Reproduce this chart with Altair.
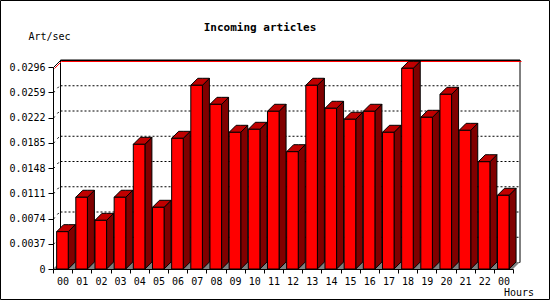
import json
import altair as alt
import pandas as pd

# ---- data ----
hours = ["00", "01", "02", "03", "04", "05", "06", "07", "08", "09", "10", "11",
         "12", "13", "14", "15", "16", "17", "18", "19", "20", "21", "22", "00"]
values = [0.00547, 0.01051, 0.00713, 0.01051, 0.01827, 0.00904, 0.01915, 0.02692,
          0.02413, 0.02003, 0.02047, 0.02311, 0.01719, 0.02692, 0.02355, 0.02194,
          0.02311, 0.02003, 0.02941, 0.02223, 0.02560, 0.02032, 0.01572, 0.01080]
y_ticks = [0, 0.0037, 0.0074, 0.0111, 0.0148, 0.0185, 0.0222, 0.0259, 0.0296]
title_text = "Incoming articles"
y_title = "Art/sec"
x_title = "Hours"

# ---- layout / style ----
W, H = 460, 202
N = len(hours)
YMAX = y_ticks[-1]
DEPTH_PX = 7
DX = DEPTH_PX * N / W          # depth offset in x units
DY = DEPTH_PX * YMAX / H       # depth offset in y units
OFF = 0.19                     # bar left offset inside its slot
BW = 0.605                     # bar front width (slot units)
FONT = "DejaVu Sans Mono"
CR = 0.5                       # crisp-line offset

df = pd.DataFrame({"i": list(range(N)), "hour": hours, "value": values})
ticks_df = pd.DataFrame({"t": y_ticks})

xscale = alt.Scale(domain=[0, N], nice=False, zero=False)
yscale = alt.Scale(domain=[0, YMAX], nice=False, zero=False)

xaxis = alt.Axis(
    values=list(range(N + 1)),
    labelExpr=f"datum.value < {N} ? {json.dumps(hours)}[datum.value] : ''",
    labelOffset=W / N / 2, tickSize=4, labelPadding=3, grid=False, title=None,
    labelFlush=False, labelOverlap=False, labelBound=False,
    domainColor="black", tickColor="black", labelColor="black",
    labelFont=FONT, labelFontSize=10, zindex=1,
)
yaxis = alt.Axis(
    values=y_ticks,
    labelExpr="datum.value == 0 ? '0' : format(datum.value, '.4f')",
    tickSize=5, labelPadding=3, grid=False, title=None,
    labelFlush=False, labelOverlap=False, labelBound=False,
    domainColor="black", tickColor="black", labelColor="black",
    labelFont=FONT, labelFontSize=10, zindex=1,
)


def X(field=None, datum=None):
    if datum is not None:
        return alt.X(datum=datum, type="quantitative", scale=xscale, axis=xaxis)
    return alt.X(field, type="quantitative", scale=xscale, axis=xaxis)


def Y(field=None, datum=None):
    if datum is not None:
        return alt.Y(datum=datum, type="quantitative", scale=yscale, axis=yaxis)
    return alt.Y(field, type="quantitative", scale=yscale, axis=yaxis)


one = pd.DataFrame({"z": [0]})

# back wall
back = alt.Chart(one).mark_rect(
    fill="white", stroke="black", strokeWidth=1, xOffset=CR, yOffset=CR
).encode(
    x=X(datum=DX), x2=alt.X2(datum=N + DX), y=Y(datum=DY), y2=alt.Y2(datum=YMAX + DY)
)

# grid on back wall and side wall
grid_src = alt.Chart(ticks_df).transform_filter(
    f"datum.t > 0 && datum.t < {YMAX * 0.999}"
).transform_calculate(tb=f"datum.t + {DY}")
grid_h = grid_src.mark_rule(
    color="black", strokeDash=[2, 2], strokeWidth=1, xOffset=CR, yOffset=CR
).encode(
    x=X(datum=DX), x2=alt.X2(datum=N + DX), y=Y("tb")
)
grid_s = grid_src.mark_rule(
    color="black", strokeDash=[2, 4], strokeWidth=1, xOffset=CR, yOffset=CR
).encode(
    x=X(datum=0), x2=alt.X2(datum=DX), y=Y("t"), y2=alt.Y2("tb")
)

# top edge of the box (red + black)
edge_src = alt.Chart(alt.sequence(0, 3, as_="k")).transform_calculate(
    ex=f"[0, {DX}, {N + DX}][datum.k]",
    ey=f"[{YMAX}, {YMAX + DY}, {YMAX + DY}][datum.k]",
)
edge_red = edge_src.mark_line(
    color="#ff0000", strokeWidth=1, yOffset=1 + CR, xOffset=1 + CR
).encode(x=X("ex"), y=Y("ey"), order="k:Q")
edge_blk = edge_src.mark_line(
    color="black", strokeWidth=1, yOffset=CR, xOffset=CR
).encode(x=X("ex"), y=Y("ey"), order="k:Q")

# floor
floor = alt.Chart(alt.sequence(0, 4, as_="k")).transform_calculate(
    fx=f"[0, {DX}, {N}, {N + DX}][datum.k]",
    fy=f"[0, {DY}, {DY}, {DY}][datum.k]",
    fy2=f"[0, 0, 0, {DY}][datum.k]",
).mark_area(color="#808080", orient="vertical").encode(
    x=X("fx"), y=Y("fy"), y2=alt.Y2("fy2")
)

bars_base = alt.Chart(df).transform_calculate(
    xl=f"datum.i + {OFF}", xr=f"datum.i + {OFF + BW}"
)

side = bars_base.transform_calculate(k="[0, 1]").transform_flatten(["k"]).transform_calculate(
    sx=f"datum.xr + datum.k * {DX}",
    sy=f"datum.value + datum.k * {DY}",
    sy2=f"datum.k * {DY}",
).mark_area(fill="#800000", stroke="black", strokeWidth=1, orient="vertical").encode(
    x=X("sx"), y=Y("sy"), y2=alt.Y2("sy2"), detail="i:N"
)

top = bars_base.transform_calculate(k="[0, 1, 2, 3]").transform_flatten(["k"]).transform_calculate(
    tx=f"[datum.xl, datum.xl + {DX}, datum.xr, datum.xr + {DX}][datum.k]",
    ty=f"[datum.value, datum.value + {DY}, datum.value + {DY}, datum.value + {DY}][datum.k]",
    ty2=f"[datum.value, datum.value, datum.value, datum.value + {DY}][datum.k]",
).mark_area(fill="#c00000", stroke="black", strokeWidth=1, orient="vertical").encode(
    x=X("tx"), y=Y("ty"), y2=alt.Y2("ty2"), detail="i:N"
)

front = bars_base.mark_rect(fill="#ff0000", stroke="black", strokeWidth=1).encode(
    x=X("xl"), x2=alt.X2("xr"), y=Y("value"), y2=alt.Y2(datum=0)
)

# texts
title = alt.Chart(pd.DataFrame({"s": [title_text]})).mark_text(
    font=FONT, fontSize=11, fontWeight="bold", align="center", baseline="alphabetic", color="black"
).encode(x=alt.value(207), y=alt.value(-36), text="s:N")
ytitle = alt.Chart(pd.DataFrame({"s": [y_title]})).mark_text(
    font=FONT, fontSize=10, align="left", baseline="alphabetic", color="black"
).encode(x=alt.value(-24.5), y=alt.value(-27), text="s:N")
xtitle = alt.Chart(pd.DataFrame({"s": [x_title]})).mark_text(
    font=FONT, fontSize=10, align="left", baseline="alphabetic", color="black"
).encode(x=alt.value(451), y=alt.value(H + 27), text="s:N")

frame = alt.Chart(one).mark_rect(filled=False, stroke="black", strokeWidth=1).encode(
    x=alt.value(-52.5), x2=alt.value(496.5), y=alt.value(-66.5), y2=alt.value(232.5)
)

chart = alt.layer(
    back, grid_h, grid_s, edge_red, edge_blk, floor, side, top, front,
    title, ytitle, xtitle, frame
).properties(
    width=W, height=H,
    autosize=alt.AutoSizeParams(type="none"),
    padding={"left": 53, "top": 67, "right": 37, "bottom": 31},
    background="white",
).configure_view(stroke=None)

chart.save("out.html", embed_options={"renderer": "svg", "actions": False})
